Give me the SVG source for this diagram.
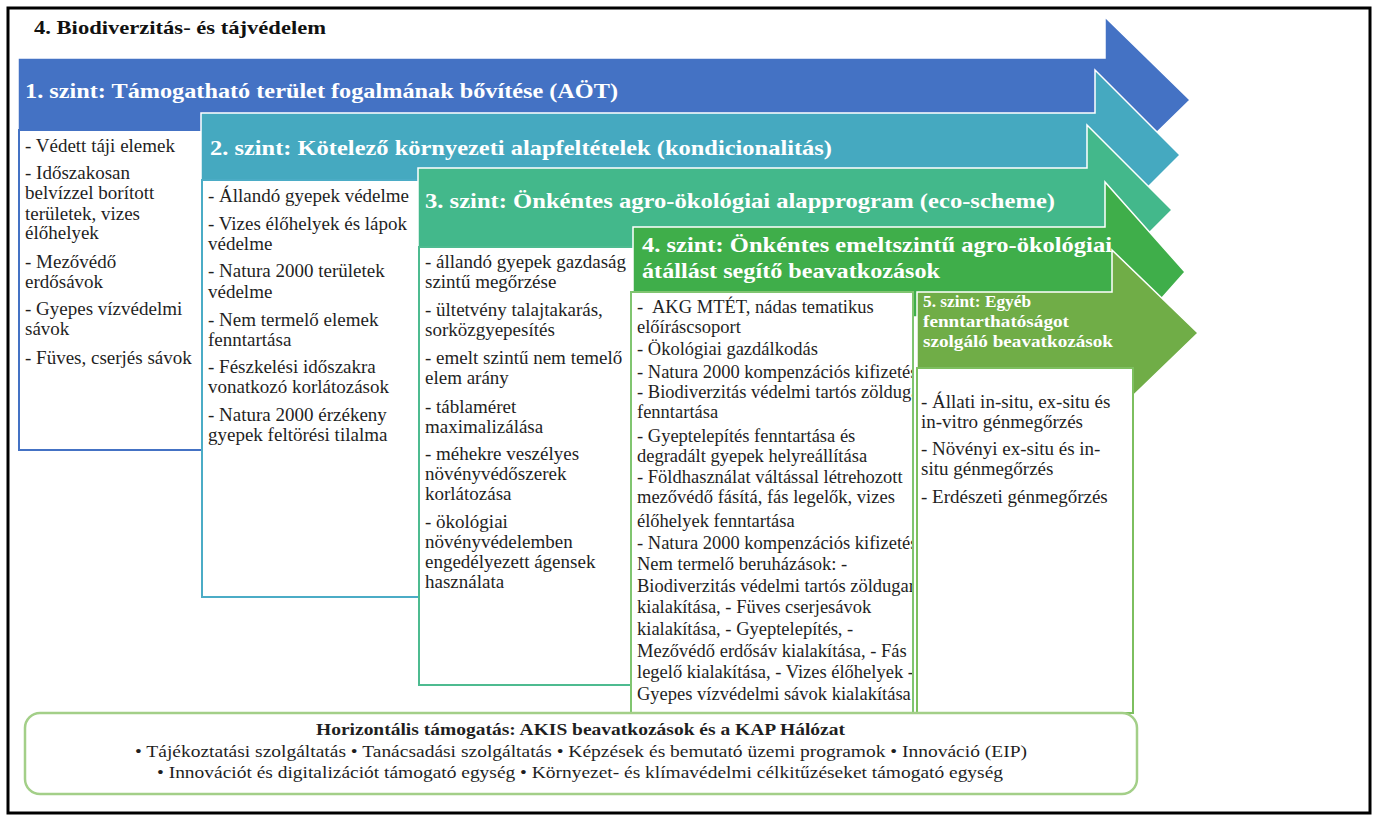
<svg xmlns="http://www.w3.org/2000/svg" width="1378" height="821" viewBox="0 0 1378 821">
<style>
text{font-family:"Liberation Serif","Times New Roman",serif;}
.li{font-size:19px;fill:#1f1f1f;}
.l4{font-size:18.5px;fill:#1f1f1f;}
.hd{font-size:21px;font-weight:bold;fill:#fff;}
.h5{font-size:17px;font-weight:bold;fill:#fff;}
.arr{stroke:#fff;stroke-width:1.5;stroke-linejoin:miter;}
.box{fill:#fff;stroke-width:2;}
.bt{font-size:17px;fill:#1f1f1f;}
</style>
<defs>
<clipPath id="c4"><rect x="631" y="293" width="281" height="420"/></clipPath>
</defs>
<rect x="0" y="0" width="1378" height="821" fill="#fff"/>
<rect x="8" y="8" width="1362" height="805" fill="none" stroke="#000" stroke-width="3"/>

<g id="title">
<text x="34" y="34" style="font-size:19px;font-weight:bold;fill:#111" textLength="292" lengthAdjust="spacingAndGlyphs">4. Biodiverzitás- és tájvédelem</text>
</g>

<g id="level1">
<polygon class="arr" fill="#4472C4" points="18,58 1105,58 1105,17 1190,100 1105,183 1105,142 18,142"/>
<text class="hd" x="25" y="98" textLength="593" lengthAdjust="spacingAndGlyphs">1. szint: Támogatható terület fogalmának bővítése (AÖT)</text>
<rect class="box" x="19" y="130" width="200" height="320" stroke="#4472C4"/>
<g class="li">
<text x="25" y="152">- Védett táji elemek</text>
<text x="25" y="179">- Időszakosan</text>
<text x="25" y="199">belvízzel borított</text>
<text x="25" y="220">területek, vizes</text>
<text x="25" y="239">élőhelyek</text>
<text x="25" y="268">- Mezővédő</text>
<text x="25" y="288">erdősávok</text>
<text x="25" y="315">- Gyepes vízvédelmi</text>
<text x="25" y="335">sávok</text>
<text x="25" y="364">- Füves, cserjés sávok</text>
</g>
</g>

<g id="level2">
<polygon class="arr" fill="#45A9C0" points="201,113 1095,113 1095,70 1180,155 1095,240 1095,197 201,197"/>
<text class="hd" x="210" y="155" textLength="622" lengthAdjust="spacingAndGlyphs">2. szint: Kötelező környezeti alapfeltételek (kondicionalitás)</text>
<rect class="box" x="202" y="180" width="230" height="417" stroke="#4BACC6"/>
<g class="li">
<text x="208" y="202">- Állandó gyepek védelme</text>
<text x="208" y="230">- Vizes élőhelyek és lápok</text>
<text x="208" y="250">védelme</text>
<text x="208" y="277">- Natura 2000 területek</text>
<text x="208" y="298">védelme</text>
<text x="208" y="326">- Nem termelő elemek</text>
<text x="208" y="346">fenntartása</text>
<text x="208" y="373">- Fészkelési időszakra</text>
<text x="208" y="393">vonatkozó korlátozások</text>
<text x="208" y="421">- Natura 2000 érzékeny</text>
<text x="208" y="441">gyepek feltörési tilalma</text>
</g>
</g>

<g id="level3">
<polygon class="arr" fill="#43B88B" points="418,168 1087,168 1087,125 1172,210 1087,295 1087,252 418,252"/>
<text class="hd" x="425" y="208" textLength="630" lengthAdjust="spacingAndGlyphs">3. szint: Önkéntes agro-ökológiai alapprogram (eco-scheme)</text>
<rect class="box" x="419" y="247" width="225" height="438" stroke="#4DBB90"/>
<g class="li">
<text x="425" y="268">- állandó gyepek gazdaság</text>
<text x="425" y="288">szintű megőrzése</text>
<text x="425" y="316">- ültetvény talajtakarás,</text>
<text x="425" y="336">sorközgyepesítés</text>
<text x="425" y="364">- emelt szintű nem temelő</text>
<text x="425" y="384">elem arány</text>
<text x="425" y="413">- táblaméret</text>
<text x="425" y="433">maximalizálása</text>
<text x="425" y="460">- méhekre veszélyes</text>
<text x="425" y="480">növényvédőszerek</text>
<text x="425" y="500">korlátozása</text>
<text x="425" y="528">- ökológiai</text>
<text x="425" y="548">növényvédelemben</text>
<text x="425" y="568">engedélyezett ágensek</text>
<text x="425" y="588">használata</text>
</g>
</g>

<g id="level4">
<polygon class="arr" fill="#3FAE4A" points="633,227 1105,227 1105,182 1185,272 1105,362 1105,317 633,317"/>
<text class="hd" x="642" y="252" textLength="470" lengthAdjust="spacingAndGlyphs">4. szint: Önkéntes emeltszintű agro-ökológiai</text>
<text class="hd" x="642" y="278" textLength="298" lengthAdjust="spacingAndGlyphs">átállást segítő beavatkozások</text>
<rect class="box" x="631" y="292" width="282" height="421" stroke="#80C570"/>
<g class="l4" clip-path="url(#c4)">
<text x="637" y="313">-</text>
<text x="652" y="313">AKG MTÉT, nádas tematikus</text>
<text x="637" y="333">előíráscsoport</text>
<text x="637" y="355">- Ökológiai gazdálkodás</text>
<text x="637" y="378">- Natura 2000 kompenzációs kifizetés</text>
<text x="637" y="398">- Biodiverzitás védelmi tartós zöldugar</text>
<text x="637" y="418">fenntartása</text>
<text x="637" y="442">- Gyeptelepítés fenntartása és</text>
<text x="637" y="462">degradált gyepek helyreállítása</text>
<text x="637" y="483">- Földhasználat váltással létrehozott</text>
<text x="637" y="503">mezővédő fásítá, fás legelők, vizes</text>
<text x="637" y="527">élőhelyek fenntartása</text>
<text x="637" y="549">- Natura 2000 kompenzációs kifizetés</text>
<text x="637" y="570">Nem termelő beruházások: -</text>
<text x="637" y="592">Biodiverzitás védelmi tartós zöldugar</text>
<text x="637" y="613">kialakítása, - Füves cserjesávok</text>
<text x="637" y="635">kialakítása, - Gyeptelepítés, -</text>
<text x="637" y="657">Mezővédő erdősáv kialakítása, - Fás</text>
<text x="637" y="678">legelő kialakítása, - Vizes élőhelyek -</text>
<text x="637" y="700">Gyepes vízvédelmi sávok kialakítása</text>
</g>
</g>

<g id="level5">
<polygon class="arr" fill="#70AD47" points="917,292 1112,292 1112,250 1198,333 1112,416 1112,374 917,374"/>
<text class="h5" x="923" y="307" textLength="108" lengthAdjust="spacingAndGlyphs">5. szint: Egyéb</text>
<text class="h5" x="923" y="327" textLength="146" lengthAdjust="spacingAndGlyphs">fenntarthatóságot</text>
<text class="h5" x="923" y="347" textLength="190" lengthAdjust="spacingAndGlyphs">szolgáló beavatkozások</text>
<rect class="box" x="917" y="368" width="216" height="345" stroke="#7DBF5F"/>
<g class="li">
<text x="921" y="408">- Állati in-situ, ex-situ és</text>
<text x="921" y="428">in-vitro génmegőrzés</text>
<text x="921" y="455">- Növényi ex-situ és in-</text>
<text x="921" y="475">situ génmegőrzés</text>
<text x="921" y="503">- Erdészeti génmegőrzés</text>
</g>
</g>

<g id="horizontal">
<rect x="25" y="713" width="1112" height="81" rx="15" ry="15" fill="#fff" stroke="#A3CF88" stroke-width="2.5"/>
<text class="bt" x="316" y="735" style="font-weight:bold" textLength="529" lengthAdjust="spacingAndGlyphs">Horizontális támogatás: AKIS beavatkozások és a KAP Hálózat</text>
<text class="bt" x="135" y="757" textLength="892" lengthAdjust="spacingAndGlyphs">• Tájékoztatási szolgáltatás • Tanácsadási szolgáltatás • Képzések és bemutató üzemi programok • Innováció (EIP)</text>
<text class="bt" x="157" y="778" textLength="846" lengthAdjust="spacingAndGlyphs">• Innovációt és digitalizációt támogató egység • Környezet- és klímavédelmi célkitűzéseket támogató egység</text>
</g>
</svg>
